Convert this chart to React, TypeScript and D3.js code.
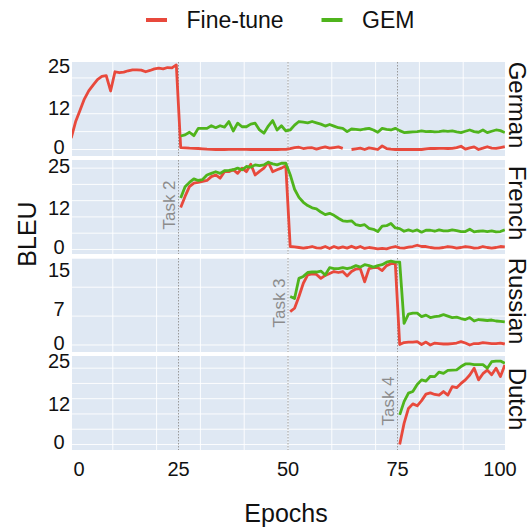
import React, { useEffect, useRef } from "react";
import * as d3 from "d3";

// x axis
const xTicks = [0, 25, 50, 75, 100];
const taskBoundaries = [25, 50, 75];

// one row per language
const languages = ["German", "French", "Russian", "Dutch"];
const yTicks = [
  [0, 12, 25],
  [0, 12, 25],
  [0, 7, 15],
  [0, 12, 25],
];
const yDomains = [
  [-2, 26.9],
  [-1.4, 27.5],
  [-1.43, 17.76],
  [-1.7, 27.25],
];
const gridSteps = [5.5, 5, 5.9, 4.7];

// BLEU per epoch, first value belongs to the start epoch
const germanFineTuneStart = 1;
const germanFineTune = [
  3.5, 8.5, 12, 15.5, 18, 19.8, 21.5, 22.5, 22.7, 18, 23.9, 23.6, 23.8, 24.2, 24.5, 24.5, 24.4, 23.9, 24.3, 24.8, 25, 24.8, 25.2, 25.1, 26,
  0.6, 0.5, 0.4, 0.35, 0.3, 0.2, 0.1, 0.05, 0, 0, 0, 0.05, 0.05, 0.05, 0.05, 0.05, 0, 0, 0, 0, 0, 0, 0, 0.05, 0.05,
  0.3, 0.6, 0.7, 0.3, 0.5, 0.55, 0.1, 0.5, 0.8, 0.4, 0.6, 0.8, 0.35, null, 0, 0.2, 0.4, 0, 0.5, 0.3, 0, 1.1, 0.3, 0.1, 0,
  0, 0.05, 0, 0.05, 0, 0, 0.2, 0.35, 0.3, 0.35, 0.35, 0.3, 0.35, 0.6, 1.0, 0.1, 0.5, 0.8, 0, 0.4, 0.85, 0.4, 0.35, 0.6, 0.85,
];
const germanGemStart = 26;
const germanGem = [
  4.15, 4.5, 5.3, 4.25, 6.5, 6.5, 6.5, 7.3, 6.7, 7.3, 6.9, 8.6, 5.7, 8.1, 7.0, 7.0, 7.8, 8.1, 6.0, 5.0, 7.2, 8.9, 6.0, 7.3, 5.7,
  6.0, 7.5, 8.6, 8.4, 8.2, 8.6, 8.2, 7.8, 7.2, 7.7, 7.2, 6.7, 6.5, 5.5, 6.3, 6.2, 6.0, 6.3, 6.5, 6.0, 5.3, 6.5, 6.2, 6.0, 6.5,
  5.8, 5.2, 5.3, 5.4, 5.5, 5.7, 5.5, 5.6, 5.4, 5.5, 5.7, 5.6, 5.7, 5.4, 5.2, 5.6, 6.0, 5.5, 5.3, 6.0, 5.2, 5.6, 6.0, 5.8, 5.2,
];

const frenchFineTuneStart = 26;
const frenchFineTune = [
  12.9, 16.3, 19.3, 20.4, 20.6, 20.9, 21.2, 22.4, 22.9, 21.9, 23.9, 23.9, 24.5, 23.4, 25.0, 23.9, 26.2, 22.9, 24.0, 25.0, 26.8, 23.9, 24.5, 25.0, 25.7,
  0.9, 0.8, 0.6, 0.4, 0.6, 0.9, 0.5, 0.4, 0.9, 0.3, 0.9, 0.4, 0.8, 0.4, 1.0, 0.4, 0.9, 0.3, 0.6, 0.4, 0.2, 0.3, 0.2, 0.6, 0.9,
  0.5, 0.4, 0.7, 0.9, 1.3, 0.9, 0.9, 0.6, 0.4, 0.4, 0.6, 0.9, 0.7, 0.4, 0.6, 0.9, 0.7, 0.4, 0.5, 0.9, 0.6, 0.4, 0.6, 0.9, 0.8,
];
const frenchGemStart = 26;
const frenchGem = [
  15.8, 19.3, 20.6, 21.7, 21.2, 21.5, 22.9, 23.4, 23.9, 23.4, 24.2, 24.3, 24.5, 25.0, 24.5, 25.5, 25.3, 26.0, 25.8, 26.0, 26.8, 26.3, 26.0, 26.5, 26.5,
  23.0, 18.5, 16.0, 14.5, 13.5, 12.8, 12.5, 11.5, 10.7, 11.1, 10.5, 9.6, 8.8, 8.6, 8.8, 7.6, 7.3, 7.6, 6.5, 6.2, 5.5, 7.2, 7.3, 8.0, 6.6,
  6.4, 5.6, 6.0, 5.6, 6.0, 5.3, 5.9, 5.9, 5.6, 6.0, 5.7, 5.7, 6.0, 5.8, 5.5, 5.5, 6.2, 5.4, 5.6, 5.7, 5.5, 5.7, 5.4, 5.5, 6.0,
];

const russianFineTuneStart = 51;
const russianFineTune = [
  6.8, 7.5, 9.9, 12.6, 14.3, 14.5, 14.4, 13.6, 14.2, 14.6, 15.0, 14.8, 15.0, 14.1, 15.0, 15.5, 15.6, 12.9, 15.6, 15.8, 15.8, 15.2, 16.2, 16.6, 16.6,
  0.1, 0.5, 0.6, 0.6, 0.7, 0.1, 0.6, 0, 0.4, 0.3, 0.2, 0.2, 0.3, 0.4, 0.7, 0.4, 0, 0.3, 0.3, 0.5, 0.4, 0.3, 0.3, 0.4, 0.2,
];
const russianGemStart = 51;
const russianGem = [
  9.9, 9.5, 13.6, 14.0, 14.8, 14.9, 14.9, 15.1, 14.3, 15.8, 15.6, 15.6, 15.8, 15.6, 15.8, 16.2, 15.9, 16.4, 16.2, 15.9, 16.2, 16.4, 16.9, 17.1, 16.9,
  16.9, 4.4, 6.3, 6.5, 6.5, 5.8, 6.1, 5.6, 5.8, 5.9, 6.2, 5.9, 5.6, 5.7, 5.4, 5.2, 5.6, 4.9, 5.2, 5.1, 5.0, 5.1, 4.9, 4.8, 4.7,
];

const dutchFineTuneStart = 76;
const dutchFineTune = [
  0, 6.5, 11.1, 12.5, 11.9, 13.5, 15.5, 15.9, 15.4, 15.2, 16.3, 15.2, 17.8, 17.5, 18.8, 19.9, 21.4, 23.5, 19.9, 21.8, 22.9, 21.5, 23.5, 20.9, 24.5,
];
const dutchGemStart = 76;
const dutchGem = [
  9.1, 13.2, 15.8, 16.3, 18.5, 19.9, 19.5, 21.0, 20.9, 22.3, 21.9, 22.8, 22.9, 23.0, 24.0, 24.8, 24.8, 24.6, 24.6, 24.6, 23.5, 25.5, 25.7, 25.7, 25.0,
];

const taskLabels = ["", "Task 2", "Task 3", "Task 4"];

const RED = "#e8493c";
const GREEN = "#4fb41c";
const FONT = "'Liberation Sans', Arial, Helvetica, sans-serif";

export default function App() {
  const ref = useRef<SVGSVGElement>(null);

  useEffect(() => {
    const svg = d3.select(ref.current);
    svg.selectAll("*").remove();

    const panelTop = 62;
    const panelH = 94;
    const panelGap = 4;
    const left = 72;
    const right = 505;

    const x = d3.scaleLinear().domain([0, 100]).range([69, 507]);

    const series = [
      [germanFineTune, germanFineTuneStart, germanGem, germanGemStart],
      [frenchFineTune, frenchFineTuneStart, frenchGem, frenchGemStart],
      [russianFineTune, russianFineTuneStart, russianGem, russianGemStart],
      [dutchFineTune, dutchFineTuneStart, dutchGem, dutchGemStart],
    ] as [(number | null)[], number, number[], number][];

    const defs = svg.append("defs");

    languages.forEach((lang, k) => {
      const top = panelTop + k * (panelH + panelGap);
      const bottom = top + panelH;
      const y = d3.scaleLinear().domain(yDomains[k]).range([bottom, top]);
      const g = svg.append("g");

      defs
        .append("clipPath")
        .attr("id", "clip" + k)
        .append("rect")
        .attr("x", left)
        .attr("y", top)
        .attr("width", right - left)
        .attr("height", panelH);

      g.append("rect")
        .attr("x", left)
        .attr("y", top)
        .attr("width", right - left)
        .attr("height", panelH)
        .attr("fill", "#dfe8f3");

      // grid
      g.selectAll(".vgrid")
        .data(d3.range(10, 100, 10))
        .enter()
        .append("line")
        .attr("x1", d => x(d))
        .attr("x2", d => x(d))
        .attr("y1", top)
        .attr("y2", bottom)
        .attr("stroke", "#fff")
        .attr("stroke-width", 0.9);

      const hg = d3.range(0, yDomains[k][1], gridSteps[k]);
      g.selectAll(".hgrid")
        .data(hg)
        .enter()
        .append("line")
        .attr("x1", left)
        .attr("x2", right)
        .attr("y1", d => y(d))
        .attr("y2", d => y(d))
        .attr("stroke", "#fff")
        .attr("stroke-width", 0.9);

      // task boundaries
      g.selectAll(".task")
        .data(taskBoundaries)
        .enter()
        .append("line")
        .attr("x1", d => x(d))
        .attr("x2", d => x(d))
        .attr("y1", top)
        .attr("y2", bottom)
        .attr("stroke", "#9a9a9a")
        .attr("stroke-width", 1)
        .attr("stroke-dasharray", "1.5,1.5");

      const [ft, ftStart, gem, gemStart] = series[k];
      const mkLine = (start: number) =>
        d3
          .line<number | null>()
          .defined(d => d != null)
          .x((d, i) => x(start + i - 0.5))
          .y(d => y(d as number));

      const lines = g.append("g").attr("clip-path", `url(#clip${k})`);
      lines
        .append("path")
        .attr("d", mkLine(ftStart)(ft))
        .attr("fill", "none")
        .attr("stroke", RED)
        .attr("stroke-width", 2.8)
        .attr("stroke-linejoin", "round");
      lines
        .append("path")
        .attr("d", mkLine(gemStart)(gem))
        .attr("fill", "none")
        .attr("stroke", GREEN)
        .attr("stroke-width", 2.8)
        .attr("stroke-linejoin", "round");

      // y tick labels
      g.selectAll(".ytick")
        .data(yTicks[k])
        .enter()
        .append("text")
        .attr("x", 59)
        .attr("y", d => y(d) + 5)
        .attr("text-anchor", "middle")
        .attr("font-family", FONT)
        .attr("font-size", 20)
        .attr("fill", "#111")
        .text(d => d);

      // language label on the right
      const cy = (top + bottom) / 2 - 4;
      g.append("text")
        .attr("transform", `translate(509, ${cy}) rotate(90)`)
        .attr("text-anchor", "middle")
        .attr("font-family", FONT)
        .attr("font-size", 24)
        .attr("fill", "#111")
        .text(lang);

      if (taskLabels[k]) {
        g.append("text")
          .attr("transform", `translate(${x(taskBoundaries[k - 1]) - 3.5}, ${(top + bottom) / 2 - 2}) rotate(-90)`)
          .attr("text-anchor", "middle")
          .attr("font-family", FONT)
          .attr("font-size", 17)
          .attr("fill", "#8c8c8c")
          .text(taskLabels[k]);
      }
    });

    // x tick labels
    svg
      .selectAll(".xtick")
      .data(xTicks)
      .enter()
      .append("text")
      .attr("x", d => Math.min(Math.max(x(d), 79), 500))
      .attr("y", 476)
      .attr("text-anchor", "middle")
      .attr("font-family", FONT)
      .attr("font-size", 20)
      .attr("fill", "#111")
      .text(d => d);

    svg
      .append("text")
      .attr("x", 286)
      .attr("y", 522)
      .attr("text-anchor", "middle")
      .attr("font-family", FONT)
      .attr("font-size", 25)
      .attr("fill", "#111")
      .text("Epochs");

    svg
      .append("text")
      .attr("transform", `translate(36, 234) rotate(-90)`)
      .attr("text-anchor", "middle")
      .attr("font-family", FONT)
      .attr("font-size", 25)
      .attr("fill", "#111")
      .text("BLEU");

    // legend
    const legend = [
      { name: "Fine-tune", color: RED, x: 146 },
      { name: "GEM", color: GREEN, x: 321.5 },
    ];
    legend.forEach(l => {
      svg
        .append("line")
        .attr("x1", l.x)
        .attr("x2", l.x + 21)
        .attr("y1", 20)
        .attr("y2", 20)
        .attr("stroke", l.color)
        .attr("stroke-width", 4);
      svg
        .append("text")
        .attr("x", l.x + 40.5)
        .attr("y", 28)
        .attr("font-family", FONT)
        .attr("font-size", 23)
        .attr("fill", "#111")
        .text(l.name);
    });
  }, []);

  return (
    <svg
      ref={ref}
      width={528}
      height={528}
      style={{ position: "absolute", left: 0, top: 0, background: "#fff" }}
    />
  );
}
